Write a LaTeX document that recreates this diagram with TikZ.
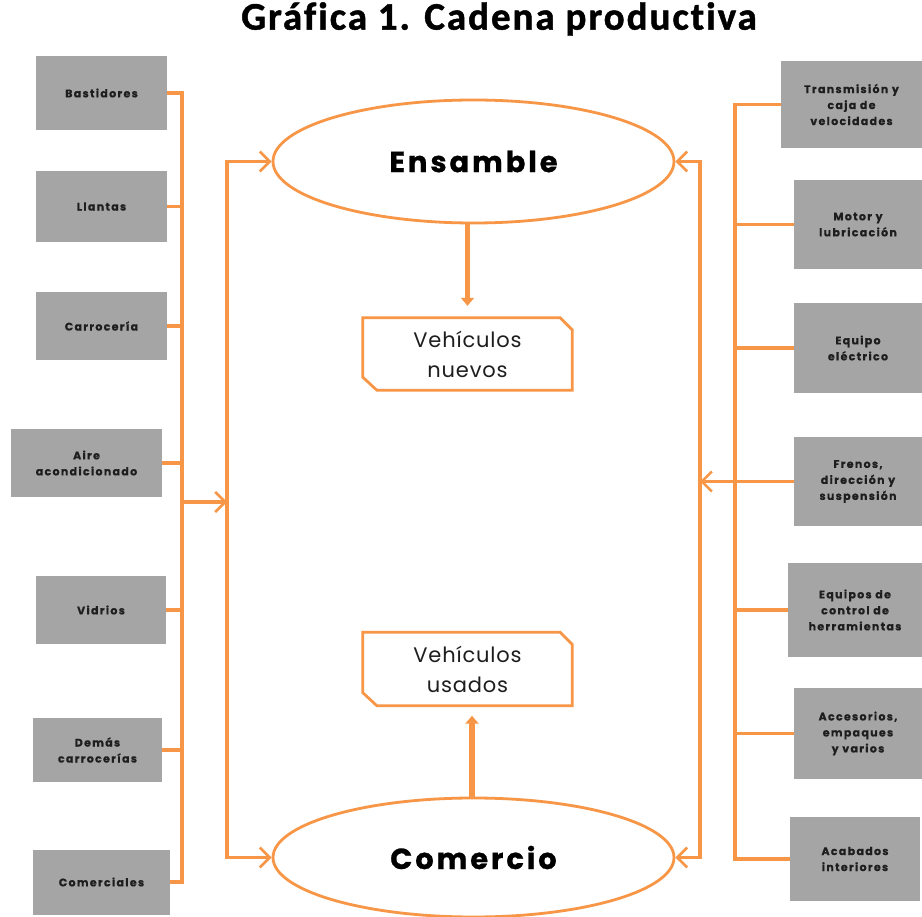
\documentclass[tikz,border=0pt]{standalone}
\usepackage{fontspec}
\setmainfont{Poppins}
\newfontfamily\titlefont[LetterSpace=5,Ligatures=NoCommon,FakeBold=1.2]{Carlito}
\newfontfamily\boxfont[LetterSpace=12,FakeBold=0.6]{Poppins}
\newfontfamily\bigfont[LetterSpace=10,FakeBold=0.8]{Poppins}
\newfontfamily\midfont[LetterSpace=4]{Poppins}
\usetikzlibrary{arrows.meta,shapes.geometric}
\definecolor{org}{HTML}{F79646}
\definecolor{gbox}{HTML}{A5A5A5}
\definecolor{gtxt}{HTML}{1E1E1E}
\begin{document}
\begin{tikzpicture}[x=1pt,y=-1pt,
  gb/.style={draw=none,fill=gbox,inner sep=0pt,align=center,text=gtxt,
    font=\boxfont\bfseries\fontsize{11}{16}\selectfont},
  conn/.style={draw=org,line width=3.4pt},
  arr/.style={conn,-{Straight Barb[length=10pt,width=20pt,line width=2.6pt]}},
  thick arr/.style={draw=org,line width=5.5pt,-{Triangle[length=8pt,width=13pt]}},
  oval/.style={ellipse,draw=org,line width=2.8pt,fill=white,inner sep=0pt,
    font=\bigfont\bfseries\fontsize{29}{34}\selectfont,text=black},
  vbox/.style={draw=none,inner sep=0pt,align=center,text=gtxt,
    font=\midfont\fontsize{21}{30}\selectfont},
  vline/.style={draw=org,line width=2.8pt,line join=miter}
]
\useasboundingbox (0,0) rectangle (922,917);
\fill[white] (0,0) rectangle (922,917);

% title
\node[font=\titlefont\bfseries\fontsize{39}{42}\selectfont,text=black] (title) at (499,19) {Gráfica 1. Cadena productiva};

% ellipses
\node[oval,minimum width=401pt,minimum height=123pt] (E) at (473.5,161.5) {Ensamble};
\node[oval,minimum width=401pt,minimum height=119pt] (C) at (473.5,857.5) {Comercio};

% vehicle boxes
\node[vbox,minimum width=209pt,minimum height=72pt] (VN) at (467.5,354) {Vehículos\\nuevos};
\node[vbox,minimum width=209pt,minimum height=73pt] (VU) at (467.5,669) {Vehículos\\usados};
\foreach \b in {VN,VU}{
  \draw[vline] ([xshift=-12pt]\b.north east) -- (\b.north west) -- ([yshift=13pt]\b.south west)
    -- ([xshift=14pt]\b.south west) -- (\b.south east) -- ([yshift=-12pt]\b.north east) -- cycle;
}

% left boxes
\node[gb,minimum width=131pt,minimum height=74pt] (L1) at (101.5,93) {Bastidores};
\node[gb,minimum width=131pt,minimum height=71pt] (L2) at (101.5,206.5) {Llantas};
\node[gb,minimum width=131pt,minimum height=68pt] (L3) at (101.5,326) {Carrocería};
\node[gb,minimum width=151pt,minimum height=68pt] (L4) at (86.5,463) {Aire\\acondicionado};
\node[gb,minimum width=130pt,minimum height=68pt] (L5) at (101,610) {Vidrios};
\node[gb,minimum width=129pt,minimum height=64pt] (L6) at (97.5,750) {Demás\\carrocerías};
\node[gb,minimum width=137pt,minimum height=65pt] (L7) at (101.5,882) {Comerciales};

% right boxes
\node[gb,minimum width=141pt,minimum height=87pt] (R1) at (851.5,104.5) {Transmisión y\\caja de\\velocidades};
\node[gb,minimum width=128pt,minimum height=89pt] (R2) at (858,224.5) {Motor y\\lubricación};
\node[gb,minimum width=128pt,minimum height=90pt] (R3) at (858,348) {Equipo\\eléctrico};
\node[gb,minimum width=128pt,minimum height=89pt] (R4) at (858,481.5) {Frenos,\\dirección y\\suspensión};
\node[gb,minimum width=134pt,minimum height=94pt] (R5) at (855,610) {Equipos de\\control de\\herramientas};
\node[gb,minimum width=128pt,minimum height=91pt] (R6) at (858,733.5) {Accesorios,\\empaques\\y varios};
\node[gb,minimum width=130pt,minimum height=84pt] (R7) at (855,859) {Acabados\\interiores};

% left bus
\coordinate (lb) at (182,500);
\draw[conn,line join=miter] (L1.east) -| (lb) |- (L7.east);
\foreach \b in {L2,L3,L4,L5,L6}{ \draw[conn] (\b.east) -- (\b.east -| lb); }
\coordinate (li) at (227,500);
\draw[arr] (lb |- 0,502) -- (li |- 0,502);
\draw[arr] (li) |- (E.west);
\draw[arr] (li) |- (C.west);

% right bus
\coordinate (rb) at (735,500);
\draw[conn,line join=miter] (R1.west) -| (rb) |- (R7.west);
\foreach \b in {R2,R3,R5,R6}{ \draw[conn] (\b.west) -- (\b.west -| rb); }
\coordinate (ri) at (700,500);
\draw[arr] (R4.west) -- (R4.west -| ri);
\draw[arr] (ri) |- (E.east);
\draw[arr] (ri) |- (C.east);

% vertical arrows
\draw[thick arr] (VN.north |- E.south) -- ([yshift=12pt]VN.north);
\draw[thick arr] (472,797) -- ([yshift=-10pt]VU.south -| 472,0);
\end{tikzpicture}
\end{document}
